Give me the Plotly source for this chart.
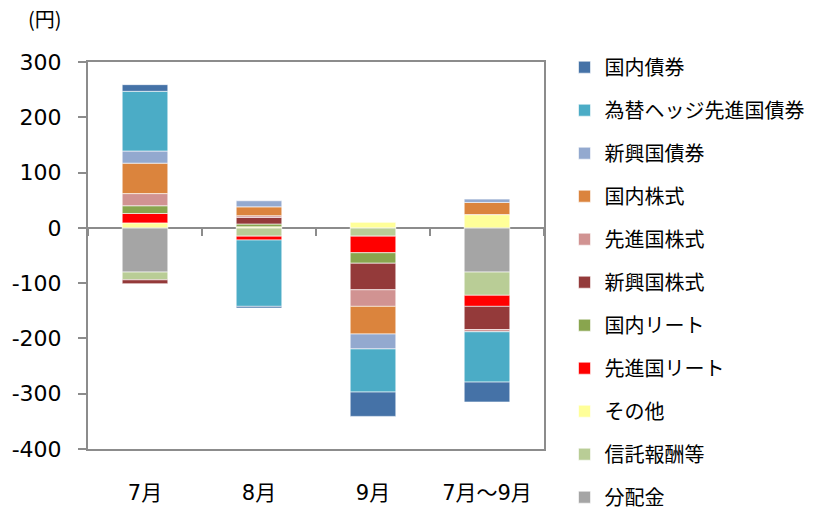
import plotly.graph_objects as go

categories = ["7月", "8月", "9月", "7月～9月"]

series_names = ["国内債券", "為替ヘッジ先進国債券", "新興国債券", "国内株式", "先進国株式",
                "新興国株式", "国内リート", "先進国リート", "その他", "信託報酬等", "分配金"]

kokunai_saiken = [12, -3, -44, -36]
kawase_hedge = [108, -120, -78, -91]
shinko_saiken = [22, 11, -27, 6]
kokunai_kabu = [55, 16, -50, 22]
senshin_kabu = [22, 3, -30, -4]
shinko_kabu = [-7, 12, -48, -42]
kokunai_reit = [14, 5, -19, 0]
senshin_reit = [17, -7, -30, -20]
sonota = [9, 2, 10, 24]
shintaku = [-14, -15, -15, -42]
bunpai = [-80, 0, 0, -80]

series_values = [kokunai_saiken, kawase_hedge, shinko_saiken, kokunai_kabu, senshin_kabu,
                 shinko_kabu, kokunai_reit, senshin_reit, sonota, shintaku, bunpai]

colors = ["#4572A7", "#4BACC6", "#93A9CF", "#DB843D", "#D19392",
          "#943A3A", "#89A54E", "#FF0000", "#FFFF99", "#B9CD96", "#A5A5A5"]

y_ticks = [300, 200, 100, 0, -100, -200, -300, -400]

FONT = "Noto Sans CJK JP"
NUMFONT = "DejaVu Sans, Noto Sans CJK JP"

fig = go.Figure()
# add in reverse so that stacking from zero matches the reference
items = list(zip(series_names, series_values, colors))
for rank, (name, vals, col) in reversed(list(enumerate(items))):
    fig.add_trace(go.Bar(
        x=categories, y=vals, name=name, legendgroup=name, legendrank=rank + 1,
        marker=dict(color=col, line=dict(color="white", width=0.6)),
    ))

# invisible trace on secondary axis for tick marks at zero line
fig.add_trace(go.Scatter(x=categories, y=[0, 0, 0, 0], xaxis="x2", mode="markers",
                         marker=dict(opacity=0), showlegend=False, hoverinfo="skip"))

fig.update_layout(
    width=816, height=510,
    margin=dict(l=88, r=272, t=62, b=61, autoexpand=False),
    barmode="relative",
    bargap=0.6,
    plot_bgcolor="white", paper_bgcolor="white",
    font=dict(family=FONT, color="#000000"),
    showlegend=True,
    legend=dict(
        traceorder="grouped", tracegroupgap=14,
        x=1.045, xanchor="left", y=1.037, yanchor="top",
        font=dict(size=20, family=FONT),
        bgcolor="rgba(0,0,0,0)", maxheight=1,
    ),
    xaxis=dict(
        type="category", categoryorder="array", categoryarray=categories,
        showline=True, linecolor="#8C8C8C", linewidth=2, mirror=True,
        ticks="", tickfont=dict(size=21, family=NUMFONT), ticklabelstandoff=24,
        showgrid=False, range=[-0.5, 3.5],
    ),
    xaxis2=dict(
        type="category", categoryorder="array", categoryarray=categories,
        overlaying="x", anchor="free", position=400 / 700, side="bottom",
        ticks="outside", tickson="boundaries", ticklen=7, tickwidth=2, tickcolor="#8C8C8C",
        showticklabels=False, showline=False, showgrid=False, range=[-0.5, 3.5],
    ),
    yaxis=dict(
        range=[-400, 300], tickvals=y_ticks, ticktext=[str(v) for v in y_ticks],
        showline=True, linecolor="#8C8C8C", linewidth=2, mirror=True,
        ticks="outside", ticklen=8, tickwidth=2, tickcolor="#8C8C8C",
        tickfont=dict(size=22, family=NUMFONT), ticklabelstandoff=12,
        showgrid=False, zeroline=True, zerolinecolor="#8C8C8C", zerolinewidth=2,
    ),
    annotations=[dict(text="(円)", xref="paper", yref="paper", x=-0.095, y=1.113,
                      xanchor="center", yanchor="middle", showarrow=False,
                      font=dict(size=20, family=FONT))],
)

fig.write_html("out.html", config={"displayModeBar": False},
               post_script="document.body.style.margin='0';")
